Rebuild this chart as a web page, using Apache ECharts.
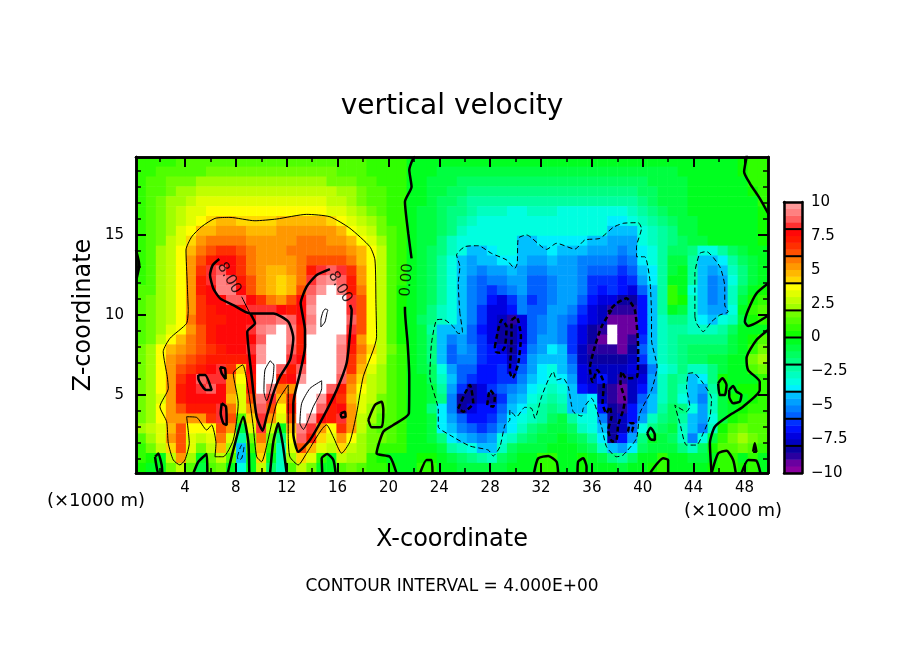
<!DOCTYPE html>
<html><head><meta charset="utf-8"><style>html,body{margin:0;padding:0;background:#fff}#c{width:904px;height:654px}</style>
<script src="https://cdn.jsdelivr.net/npm/echarts@6/dist/echarts.min.js"></script></head><body><div id="c"></div>
<script>
// vertical velocity, rows listed top to bottom
const w00=[.5,.5,.5,.5,1,1,1,1,1,1,1,1,1,1,1,1,1,1,1,1,1,1,1,.5,.5,.5,.5, -.3,-.3,-.5,-.5,-.5,-.5,-.5,-.5,-.5,-.5,-.5,-.5,-.5,-.5,-.5,-.5,-.5,-.5,-.5,-.5,-.5,-.5,-.5,-.5,-.5,-.5,-.5,-.3,-.3,-.3,-.3,-.3,-.2,.2,.5,.5];
const w01=[.5,.5,1,1,1,1,1,1.5,1.5,1.5,1.5,1.5,1.5,1.5,1.5,1.5,1.5,1.5,1.5,1.5,1,1,1,.5,.5,.5,.5, -.3,-.5,-.5,-.7,-1,-1,-1,-1,-1,-1,-1,-1,-1,-1,-1,-1,-1,-1,-1,-1,-1,-1,-1,-1,-1,-.7,-.7,-.5,-.5,-.5,-.5,-.3,-.3,.2,.5,.7];
const w02=[.5,1,1,1.5,1.5,1.5,2,2,2,2,2,2,2,2,2,2,2,2,2,1.5,1.5,1.5,1,1,.5,.5,.5, -.3,-.5,-.7,-1,-1,-1.5,-1.5,-1.5,-1.5,-1.5,-1.5,-1.5,-1.5,-1.5,-1.5,-1.5,-1.5,-1.5,-1.5,-1.5,-1.5,-1.5,-1.5,-1.5,-1,-1,-.7,-.7,-.5,-.5,-.5,-.3,-.3,-.2,.5,.7];
const w03=[.5,1,1,1.5,2,2,2.5,2.5,2.5,2.5,2.5,2.5,2.5,2.5,2.5,2.5,2.5,2.5,2.5,2.5,2,2,1.5,1,1,.5,.5, -.3,-.5,-.7,-1,-1.5,-1.5,-2,-2,-2,-2,-2,-2,-2,-2,-2,-2,-2,-2,-2,-2,-2,-2,-2,-1.5,-1.5,-1,-1,-.7,-.5,-.5,-.5,-.3,-.3,-.3,.2,.7];
const w04=[.5,1,1.5,2,2,2.5,3,3,3,3,3,3,3,3,3,3,3,3,3,2.5,2.5,2,1.5,1,1,.5,.5, -.3,-.5,-1,-1.5,-1.5,-2,-2.5,-2.5,-2.5,-2.5,-2.5,-2.5,-2.5,-2.5,-2.5,-2.5,-2.5,-2.5,-2.5,-2.5,-2.5,-2.5,-2.5,-2,-1.5,-1,-1,-.7,-.5,-.5,-.5,-.5,-.3,-.3,-.2,.5];
const w05=[.5,1,1.5,2,2.5,3,3,3.5,3.5,3.5,3.5,3.5,3.5,3.5,3.5,3.5,3.5,3.5,3.5,3,3,2.5,2,1.5,1,.5,.5, -.3,-.7,-1,-1.5,-2,-2,-2.5,-3,-3,-3,-3.5,-3.5,-3,-3,-3,-3.5,-3.5,-3.5,-3.5,-3.5,-3.5,-3.5,-3,-2.5,-2,-1.5,-1,-.7,-.5,-.5,-.5,-.5,-.5,-.3,-.3,.2];
const w06=[.5,1,1.5,2,2.5,3,3.5,4,4.5,4.5,4,4,4,4,4.5,4.5,4.5,4.5,4.5,4,3.5,3,2.5,2,1.5,.5,.5, -.3,-.7,-1,-1.5,-2,-2.5,-3,-3.5,-3.5,-3.5,-3.5,-3.5,-3.5,-3.5,-3.5,-3.5,-3.5,-3.5,-3.5,-3.5,-4,-4,-3.5,-3,-2.5,-2,-1.5,-1,-.7,-.5,-.5,-.5,-.5,-.3,-.3,.2];
const w07=[.5,1,1.5,2,3,3.5,4.5,4.5,5,5,5,4.5,4.5,4.5,5,5,5,5,5,5,4.5,3.5,3,2.5,1.5,1,.5, -.3,-.7,-1,-1.5,-2,-3,-3.5,-3.5,-3.5,-3.5,-3.5,-3.5,-3.5,-3.5,-3.5,-3.5,-3.5,-3.5,-3.5,-3.5,-4.5,-4.5,-4.5,-3.5,-3,-2.5,-2,-1,-.7,-.5,-.5,-.5,-.5,-.3,-.3,.2];
const w08=[.5,1,1.5,2.5,3,4,5,5.5,5.5,5.5,5.5,5,5,5,5,5,5.5,5.5,5.5,5,5,4.5,3.5,3,2,1,.5, -.3,-.7,-1,-2,-3,-3.5,-3.5,-3.5,-3.5,-3.5,-3.5,-4.5,-4.5,-4,-3.8,-3.8,-3.8,-3.8,-4.5,-4.5,-5,-5,-5,-3.5,-3,-2.5,-2,-1.5,-1,-.7,-.5,-.5,-.5,-.3,-.3,.2];
const w09=[.5,1,2,2.5,3.5,4.5,5.5,6,6.5,6.5,6,5.5,5,5,5,5.5,5.5,5.5,5.5,5.5,5.5,5,4.5,3.5,2.5,1,.5, -.3,-.7,-1.5,-2,-3,-3.5,-4.5,-4.5,-4,-3.5,-3.5,-4.5,-4.5,-4.5,-4,-4.5,-4.5,-4.5,-5,-5,-5,-5.5,-5,-4,-3.5,-2.5,-1.5,-1.5,-2,-3.5,-3.5,-2.5,-1.5,-.7,-.3,-.1];
const w10=[.5,1,2,2.5,3.5,5,6,7,7.5,7.5,6.5,5.5,5,5,5,5,5.5,6,6,6,6,5.5,4.5,3.5,2.5,1,.5, -.3,-.7,-1.5,-2.5,-3.5,-4.5,-5,-4.5,-4.5,-4,-3.7,-4.5,-5,-5,-4.5,-5,-5,-5.5,-5.5,-5.5,-5.5,-6,-5.5,-4,-3.5,-2.5,-1,-1,-2.5,-4.5,-4.5,-4,-2.5,-1.5,-.7,-.3];
const w11=[.5,1,2,2.5,3.5,5,6.5,8,8.5,7.5,6.5,5.5,5,4.5,4.5,5,5.5,7,8,8.5,8,6.5,5,3.5,2.5,1,.5, -.3,-.7,-1.5,-2.5,-3.5,-4.5,-5,-5.5,-5,-5,-4.5,-5,-5.5,-5.5,-5,-5,-5,-5.5,-6,-6,-6,-6.5,-6,-4.5,-4,-2.5,-1,-.5,-2.5,-4.5,-5,-4.5,-3,-2,-1,-.3];
const w12=[.5,1,2,2.5,3.5,5,7,8,9,8.5,7,6,5,4.5,4,4.5,5.5,8,9,9.5,8.5,7,5,3.5,2.5,1,.5, -.3,-.7,-1.5,-2.5,-3.5,-4.5,-5.5,-6,-5.5,-5.5,-5,-5,-6,-6,-5.5,-5,-5,-5.5,-6.5,-6.5,-6.5,-7,-6.5,-5,-4,-2.5,-.5,-.3,-2.5,-4.5,-5.5,-5,-3.5,-2,-.7,-.2];
const w13=[1,1,2,2.5,3.5,5,7,7.5,9,9,7.5,6,5,4.5,4,4.5,6,8.5,9.5,10.5,9,7,5.5,3.5,2.5,1,.3, -.3,-.7,-1.5,-2.5,-3.5,-4.5,-5.5,-6,-6.5,-6,-5.5,-5,-6,-6,-5.5,-5,-5,-5.5,-6.5,-7,-6.5,-7,-7.5,-6,-4.2,-2.5,.5,-.5,-3.5,-4.5,-5.5,-5,-3,-1.5,-.5,.2];
const w14=[1,1.5,2,2.5,3.5,5,6.5,7.5,7.5,8.5,8.5,7.5,6.5,5.5,5,6,7.5,9,10.5,10.5,10.5,8,6,3.5,2.5,1,.3, -.3,-.7,-1.5,-2.5,-3.5,-4.5,-5.5,-6,-7,-7.5,-6.5,-5.5,-6.5,-6,-5.5,-5,-5,-6,-7,-7.5,-7.5,-8.5,-8.5,-7,-4.2,-2.5,.5,.3,-3,-4.5,-5.5,-5,-3,-1,.3,.7];
const w15=[1,1.5,2,2.5,3.5,5,6.5,7,7.5,7.5,7.5,8,8,8,7.5,7,7.5,9.5,10.5,10.5,10.5,8,6,3.5,2.5,1,.3, -.5,-1,-2,-3,-3.5,-4.5,-5.5,-6.5,-7.5,-7.5,-7,-5.5,-6,-6,-5,-5,-5.5,-6.5,-7.5,-8,-9,-9,-9,-7,-4.5,-2.5,-.5,-.7,-3,-4.5,-5,-4.7,-3.5,-.5,.7,1];
const w16=[1,1.5,2,2.5,3.5,5.5,6.5,7,7,7.5,7.5,7.5,8.5,8.5,9,8.5,7.5,9,10.5,10.5,10.5,8.5,6,3.5,2.5,1,.3, -.5,-1.5,-2,-3,-3.5,-4.5,-5.5,-6.5,-7.5,-8,-9,-7.5,-6,-5.5,-5,-5.5,-6,-7,-7.5,-8,-9.5,-9.5,-9.5,-7,-4.5,-3,-2,-2,-3,-4,-4.2,-3.5,-3,-1,.3,.5];
const w17=[1,1.5,2,3,3.5,5,6,7,7.5,7.5,7.5,8,9,9.5,10.5,9,7,9.5,10.5,10.5,10.5,8,6,3.5,2.5,1,.3, -.5,-1,-2.5,-4.5,-4.5,-4.5,-6,-7,-7.5,-8.5,-8.5,-7.5,-6,-5.5,-5,-5.5,-6.5,-7.5,-8.5,-9,-10.5,-9.5,-9.5,-7,-4.5,-3,-2.5,-2.5,-3,-3,-3,-2.5,-1.5,-.5,-.3,-.2];
const w18=[1,1.5,2.5,3.5,4.5,5.5,6,7,7.5,7.5,7.5,7.5,8.5,10,10.5,9,7,10,10.5,10.5,9.5,7.5,5,3.5,2.5,1,.3, -.5,-1,-2,-4.5,-5.5,-5,-6,-6.5,-7.5,-8.5,-8.5,-7.5,-6,-5,-5,-5.5,-6.5,-7.5,-8.5,-9.5,-10.5,-9.5,-9,-6.5,-4.2,-3,-2.5,-2,-2,-2,-2,-2,-1,-.5,.3,1];
const w19=[1.5,2,3.5,4.5,5,5.5,6,6.5,7,7.5,7.5,8,9.5,10.5,10.5,8.5,7,10,10.5,10.5,9,7,5.5,4,2.5,1.5,.5, -.3,-1,-2,-4.5,-6,-5,-5.5,-6.5,-7,-7.5,-8.5,-7,-5.5,-5,-4,-4.5,-6.5,-8,-9,-9,-9,-9.5,-8.5,-6,-4.5,-3,-2.5,-2,-1.5,-1.5,-1.5,-1.5,-.7,-.3,.7,1.5];
const w20=[1.5,2,3.5,5,5.5,6,6.5,7,7,7,7,7.5,9.5,10.5,10,8,7.5,10,10.5,10.5,9,6.5,5,3.5,2.5,1,.5, -.3,-1,-2,-4.2,-6,-5.5,-5.5,-6.5,-7,-7,-8,-6.5,-5,-4.5,-4.5,-4.5,-6,-8,-8.5,-8.5,-8.5,-8.5,-8,-6.5,-4.5,-3,-2.5,-2,-1.5,-1.5,-1,-1,-.5,-.2,1.5,2];
const w21=[1.5,2,3.5,5,6,6.5,7,7.5,8,6.5,4,7.5,10.5,10.5,8.5,7,8.5,10.5,10.5,10.5,9,6.5,4.5,3,2,1,.5, -.3,-.7,-1.5,-3.5,-5,-6,-6,-7,-7,-6.5,-7.5,-6,-5,-4,-3.5,-4.5,-5.5,-7.5,-8,-8,-8,-8,-7.5,-8,-5.5,-3.5,-3,-2,-3,-3,-2,-.7,-.3,-.2,1,1.5];
const w22=[1.5,2,3.5,5,6.5,7.5,8.5,8,8,5,3.5,7,10,10.5,7,7.5,9.5,10.5,10.5,10.5,8.5,5.5,4,2.5,2,1,.5, -.3,-.5,-1.5,-3,-4.5,-6,-6.5,-7,-7,-6.5,-6.5,-5.5,-4.5,-4,-3.5,-4,-5,-7.5,-8,-7,-8,-9,-8,-7.5,-5,-3,-2,-2.5,-4.5,-4,-2,.2,-.2,-.2,-.2,.5];
const w23=[1.5,2,3.5,5,7,7.5,8,8.5,7.5,5,3,7,10,9,5.5,5,10,10.5,10.5,8.5,7,5,3.5,2.5,2,1,.5, -.3,-.5,-1,-2.5,-5,-6.5,-8.5,-7.5,-6.5,-6,-5.5,-5,-4,-3.5,-3,-3.5,-4.5,-7,-7.5,-8.5,-9,-9.5,-8,-7,-5,-3,-2,-3,-4.5,-5,-2.5,.2,-.3,.2,.3,.7];
const w24=[1.5,2,3,5,7,7.5,7.5,7.5,7.5,4.5,3,6,9,8,4.5,6.5,10.5,10.5,9.5,7.5,6.5,4.5,3,2.5,1.5,1,.5, -.3,-.5,-1,-2,-5.5,-8.5,-8.5,-7.5,-8.5,-6.5,-5,-4.5,-3.5,-3,-2.5,-3,-4.5,-4.5,-4,-8,-9,-9.5,-8,-6,-4.5,-3,-2,-3.5,-4.5,-5.5,-3,-.7,.2,-.1,.3,.7];
const w25=[1.5,2,3.5,5,6,7,7,7,8,5.5,3,5,8.5,6,3.5,7,10.5,10.5,8.5,7,7.5,5,3,2,1.5,1,.5, -.3,-.5,-2,-4,-5.5,-8.5,-7.5,-7,-7,-6,-4.5,-4,-3,-2.5,-2,-2.5,-4.2,-4.5,-3.5,-7,-8.5,-9,-7,-5.5,-4.2,-2.5,-1.5,-2,-3.5,-5,-3,-1,-.3,.2,.5,.7];
const w26=[1.5,2,3.5,5,5,5,5,6.5,8,6,1,4,8,5,3,6,10,9.5,7.5,7,8,5,2.5,2,1,1,.5, -.3,-.5,-1,-4,-5,-6,-7,-7,-6.5,-5.5,-4,-3.5,-3,-2.5,-1.5,-1,-2.5,-3.5,-3.5,-5.5,-8.5,-8,-7,-5,-3,-2,-1.5,-2.5,-4.5,-5,-3.5,-.7,.2,.7,1,1];
const w27=[2,2.5,3,4.5,6,3.5,3.5,3.5,6,5,-1,3,8,2.5,-.5,4.5,9,8,5,3.8,6.5,5,2.5,1.5,1,1,.5, -.3,-.3,-1,-4,-4.5,-5.5,-6,-6.5,-6,-5,-4,-3,-2,-1.5,-1,-.7,-1.5,-3,-3.5,-4.2,-8.5,-8,-6,-3.5,-2,-1.5,-1,-3,-4.5,-5.5,-3,.3,1,1.5,1,1];
const w28=[1,2,3,5,6,3,2.5,3,5.5,3,-2.5,1.5,5.5,1.5,-2,3.5,8.5,7,4,3,5,3.5,2,1.5,1.5,1,.5, -.3,-.3,-.7,-2,-4,-4.5,-5,-5.5,-5,-3.5,-3,-2,-1.5,-1,-.7,-.5,-1,-1.5,-2.5,-4,-8.5,-7,-5,-2,-.3,-1,-1.5,-3,-5.5,-3.5,-1,.5,1.5,2,1.5,1];
const w29=[.5,1.5,2.5,4,6,3,1.5,2.5,4.5,2,-4.5,.5,4.5,.5,-3,3,6,4.5,3,2.5,4,2.5,2,1.5,.5,.5,.5, -.3,-.3,-.5,-1,-2.5,-3,-3.5,-4.5,-4.5,-3,-1.5,-1,-1,-.7,-.5,-.5,-.5,-1,-1.5,-3,-4.5,-5,-4,-1.5,-.7,-.7,-1,-2,-3,-1.5,.3,1,1,1.5,1,.5];
const w30=[.5,.3,-.3,2.5,5,2,-.5,1.5,2.5,1,-4.5,-.5,4,-.5,-3,2,4,3,.5,-.3,2.5,2,2,.5,.2,-.2,-.3, -.3,.3,.3,-.5,-1,-1.5,-2,-2.5,-3,-1.5,-1,-.5,-.3,.5,.7,-.3,-.3,.3,-.5,-1,-2,-2.5,-1.5,-.5,-.2,.5,-.2,-.5,-1,-.7,-.2,.7,.7,-.2,.5,-.2];
const w31=[.3,-.3,-.3,1.5,2.5,1,-1,1,1.5,-.2,-3.5,-.5,2.5,-1.5,-3,1,2.5,1.5,-.2,-.3,1,1.5,1,.5,.5,.2,-.3, -.3,.5,.5,-.3,-.5,-.7,-.7,-1,-1,-.7,-.5,-.3,-.2,.5,.7,-.2,-.2,.3,-.3,-.3,-.5,-.7,-.5,-.2,.3,.7,-.2,-.2,-.3,-.3,.2,.7,.7,.2,.5,-.1];
const rows=[w00,w01,w02,w03,w04,w05,w06,w07,w08,w09,w10,w11,w12,w13,w14,w15,w16,w17,w18,w19,w20,w21,w22,w23,w24,w25,w26,w27,w28,w29,w30,w31];

// colour bands from -10 upward in steps of 0.5
const bandColors=['#8a00a0','#6a00a0','#2a00a0','#0a00a0','#0000c0','#0000e0','#0010ff','#0030ff','#0060ff','#0080ff','#00a0ff','#00c0ff','#00f0ff','#00ffe0','#00ffc0','#00ffa0','#00ff80','#00ff60','#00ff40','#00ff20','#10ff00','#30ff00','#50ff00','#70ff00','#a0ff00','#c0ff00','#e0ff00','#ffff00','#ffd800','#ffb800','#ff9800','#ff7800','#ff5000','#ff3000','#ff1800','#ff0808','#ff3030','#ff6060','#ff8080','#ff9999'];
const barLevels=[-8,-6,-4,-2,0,2,4,6,8];
const xMajor=[4,8,12,16,20,24,28,32,36,40,44,48];
const xMinor=[2,6,10,14,18,22,26,30,34,38,42,46];
const zMajor=[5,10,15];
const zMinor=[1,2,3,4,6,7,8,9,11,12,13,14,16,17,18,19];

// contours, [x km, z km]
const c4a=[[4.26,10.31],[4.18,11.98],[4.08,14.06],[4.53,14.89],[5.31,15.52],[6.36,16.04],[7.54,16.1],[9.5,15.89],[11.21,16],[13.57,16.29],[15.4,16.14],[16.97,15.42],[18.54,14.27],[18.94,13.44],[19.02,10.73],[19.07,8.64],[18.02,6.14],[17.5,3.86],[16.97,2.08],[16.32,1.36],[15.66,2.39],[15.14,3.13],[13.57,1.36],[12.91,.63],[12.25,1.14],[12.12,2.39],[12.12,5.63],[11.21,4.48],[10.47,1.98],[10.03,.83],[9.64,1.14],[9.37,3.02],[8.98,5.31],[8.54,6.88],[7.8,6.36],[8.19,4.48],[7.8,2.19],[7.01,1.14],[6.36,1.14],[6.44,1.98],[6.1,3.13],[5.71,2.81],[4.92,3.6],[4.13,3.64],[4.34,1.98],[4,.94],[3.6,.63],[3.08,.94],[2.69,1.98],[2.56,3.33],[2.03,4.27],[2.69,5.42],[2.61,6.14],[2.29,7.71],[2.82,8.54],[4.13,9.48],[4.26,10.31]];
const c8a=[[6.7,13.5],[6.18,13.12],[5.97,12.5],[6.23,11.66],[6.76,11.04],[7.8,10.62],[9.11,10.1],[10.95,10.1],[12.13,9.58],[12.52,8.54],[12.26,7.19],[11.47,6.14],[10.95,5.1],[10.42,3.64],[10.11,2.77],[9.64,3.64],[9.25,6.14],[8.9,8.96],[9.51,9.48],[9.11,10.14]];
const c8aThin=[[8.46,11.14],[9.11,10.1]];
const c8b=[[15.4,12.87],[14.36,12.5],[13.57,11.77],[13.1,10.73],[13.18,10.31],[13.44,9.06],[13.44,8.02],[13.04,6.35],[12.52,4.48],[12.52,2.6],[12.91,1.46],[13.83,2.19],[14.88,3.64],[15.93,5.31],[16.71,6.98],[16.98,8.85],[17.11,10.31],[16.98,10.62]];
const c8c=[[5.05,6.25],[5.58,6.25],[6.1,5.31],[5.58,5.35],[5.05,6.04],[5.05,6.25]];
const c8d=[[6.76,6.73],[7.15,6.66],[7.2,6],[6.89,6.35],[6.76,6.73]];
const c8e=[[6.89,4.48],[7.23,4.27],[7.28,3.12],[7.02,3.23],[6.81,3.85],[6.89,4.48]];
const c8f=[[16.24,3.85],[16.58,3.96],[16.63,3.64],[16.32,3.6],[16.24,3.85]];
const c12a=[[15.01,10.38],[15.24,10.31],[15.17,10.13],[15.01,9.56],[14.69,9.25],[14.69,9.69],[14.85,10.19],[15.01,10.38]];
const c12b=[[10.69,7.14],[11,6.87],[10.9,5.94],[10.42,4.64],[10.21,5.21],[10.29,6.56],[10.69,7.14]];
const c12c=[[14.75,5.89],[14.75,5.41],[14.09,4.27],[13.31,2.85],[13.04,3.23],[13.18,4.48],[13.83,5.41],[14.75,5.89]];
const c0mid1=[[22.1,19.9],[21.95,19.79],[21.64,19.06],[21.82,18.02],[21.3,17.08],[21.56,15.1],[21.82,13.54]];
const c0mid2=[[21.3,10.52],[21.3,10.31],[21.51,8.23],[21.64,6.14],[21.61,3.85],[20.38,3.12],[19.6,2.71],[19.07,1.35],[20.12,1.14],[20.64,.1]];
const c0l1=[[1.65,1.14],[1.91,1.35],[2.17,.62],[2.22,.1],[1.91,.1],[1.72,.73],[1.65,1.14]];
const c0l2=[[4.66,.1],[5.05,.83],[5.71,1.31],[5.76,.1]];
const c0l3=[[7.36,.1],[7.8,1.56],[8.59,3.64],[8.98,2.08],[9.06,.1]];
const c0l4=[[10.69,.1],[10.95,2.08],[11.34,3.23],[11.68,1.98],[12,.1]];
const c0l5=[[14.8,.1],[14.75,1.04],[15.19,1.31],[15.67,.94],[15.85,.1]];
const c0l6=[[18.42,3.44],[18.94,4.37],[19.47,4.58],[19.6,4.06],[19.47,3.02],[18.68,2.98],[18.42,3.44]];
const c0l7=[[.15,14.06],[.41,13.12],[.2,12.29]];
const cm4a=[[8.12,1.14],[8.46,1.87],[8.64,1.77],[8.46,1.04],[8.2,.94],[8.12,1.14]];
const cm4b=[[25.62,10.1],[25.49,11.98],[25.62,13.02],[25.36,13.75],[26.01,14.27],[27.06,14.33],[28.11,13.85],[29.29,13.44],[29.94,12.91],[30.13,13.23],[30.21,14.79],[30.86,15],[32.43,14.1],[33.22,14.48],[34.66,14.12],[35.45,14.69],[36.63,14.79],[37.68,15.48],[38.46,15.73],[39.64,15.77],[39.9,15.41],[39.51,14.27],[39.51,13.64],[40.16,13.64],[40.56,12.19],[40.69,9.89],[40.69,8.44],[41.13,6.77],[40.69,5.31],[39.77,3.85],[39.51,2.29],[38.46,1.25],[37.94,1.14],[37.15,1.77],[36.76,3.02],[35.97,4.79],[35.32,4.16],[35.19,3.68],[34.53,3.96],[34.14,5.52],[33.74,6.04],[33.22,5.94],[32.96,6.46],[32.57,5.94],[32.04,4.89],[31.52,3.54],[31.26,4.16],[30.73,4.23],[30.08,3.64],[29.55,4.06],[29.55,3.44],[29.16,3.12],[28.77,1.77],[28.24,1.19],[27.85,1.56],[26.41,1.81],[24.83,2.5],[23.92,3.02],[23.92,4.06],[23.26,6.14],[23.39,8.23],[23.79,9.69],[24.31,9.73],[25.1,9.27],[25.49,8.85],[25.83,8.89],[25.62,10.1]];
const cm4c=[[44.1,9.89],[44.1,12.6],[44.49,13.85],[45.01,13.96],[46.06,13.02],[46.45,11.77],[46.45,10.62],[46.72,10.2],[46.06,10],[45.41,9.58],[44.75,8.96],[44.23,9.48],[44.1,9.89]];
const cm4d=[[43.57,6.35],[43.96,6.39],[44.75,5.73],[45.41,4.79],[45.28,3.64],[44.75,2.6],[44.23,1.87],[43.44,1.87],[42.92,3.23],[42.52,4.37],[43.44,3.96],[43.7,4.27],[43.44,5.52],[43.57,6.35]];
const cm8a=[[28.37,8.02],[28.63,9.06],[28.9,9.69],[29.29,9.27],[29.16,8.02],[28.77,7.64],[28.45,7.7],[28.37,8.02]];
const cm8b=[[29.68,9.69],[30.08,9.89],[30.42,8.64],[30.21,6.98],[29.76,6.04],[29.55,6.46],[29.68,8.44],[29.68,9.69]];
const cm8c=[[25.49,4.16],[26.41,5.62],[26.67,4.48],[25.88,3.96],[25.49,4.16]];
const cm8d=[[27.77,4.37],[27.98,5.31],[28.37,4.89],[28.24,4.27],[27.77,4.37]];
const cm8e=[[37.54,10.31],[36.76,9.27],[36.23,8.02],[35.84,6.66],[36.05,5.83],[36.42,6.56],[36.94,5.73],[36.84,4.48],[37.15,3.85],[37.41,4.27],[37.54,3.64],[37.28,2.81],[37.62,2.08],[37.94,2.19],[38.07,3.12],[38.46,4.06],[38.59,4.69],[38.25,5.73],[38.33,6.46],[38.72,6.04],[39.56,6.14],[39.64,7.81],[39.38,10.31],[38.72,11.04],[37.94,10.73],[37.28,10.2],[37.54,10.31]];
const cm8f=[[38.85,2.71],[38.99,3.23],[39.3,3.23],[39.12,2.71],[38.85,2.71]];
const c0r0=[[22.48,.1],[23,.94],[23.39,.94],[23.47,.1]];
const c0r1=[[31.44,.1],[31.78,1.04],[32.57,1.19],[33.22,.83],[33.35,.1]];
const c0r2=[[34.87,.1],[34.92,.83],[35.32,1.04],[35.58,.52],[35.58,.1]];
const c0r3=[[40.56,.1],[41.61,1.04],[42,.94],[42,.1]];
const c0r4=[[45.41,.1],[45.93,1.35],[46.59,1.52],[47.11,.94],[47.32,.1]];
const c0r5=[[47.76,.1],[48.29,.94],[48.94,.89],[49.26,.1]];
const c0r6=[[40.35,2.6],[40.61,2.96],[40.95,2.5],[40.95,2.19],[40.61,2.23],[40.35,2.6]];
const c0r7=[[45.93,5.73],[46.27,6.04],[46.59,5.62],[46.45,5],[46.06,5],[45.93,5.73]];
const c0r8=[[46.8,5.31],[47.11,5.56],[47.37,5.21],[47.76,5],[47.63,4.58],[47.11,4.48],[46.8,4.89],[46.8,5.31]];
const c0r9=[[48.68,1.46],[48.81,1.98],[48.94,1.46],[48.68,1.46]];
const c0r10=[[48.21,20.2],[48.16,19.85],[47.97,18.96],[48.42,18.23],[49.2,17.29],[49.9,16.3]];
const c0r11=[[49.9,12],[48.94,11.35],[48.29,10.31],[48.03,9.58],[48.29,9.31],[49.9,9.98]];
const c0r12=[[49.9,9.1],[48.94,8.44],[48.16,7.29],[48.29,6.56],[49.2,5.83],[49.2,5.31],[47.89,4.27],[46.85,3.75],[45.67,3.02],[45.28,1.98],[45.41,.1]];

const thinSolid=[c4a,c8aThin,c12a,c12b,c12c];
const thickSolid=[c8a,c8b,c8c,c8d,c8e,c8f,c0mid1,c0mid2,c0l1,c0l2,c0l3,c0l4,c0l5,c0l6,c0l7,c0r0,c0r1,c0r2,c0r3,c0r4,c0r5,c0r6,c0r7,c0r8,c0r9,c0r10,c0r11,c0r12];
const thinDash=[cm4a,cm4b,cm4c,cm4d];
const thickDash=[cm8a,cm8b,cm8c,cm8d,cm8e,cm8f];
const contourLabels=[[7.46,12.31,'8.00',-60],[16.19,11.75,'8.00',-60],[21.45,12.19,'0.00',85]];

const FONT='"DejaVu Sans"';
const nC=rows[0].length,nR=rows.length;
const idx=n=>Array.from({length:n},(_,i)=>i);
const heatData=[];
rows.forEach((r,ri)=>r.forEach((v,c)=>heatData.push([c,nR-1-ri,v])));
const barData=bandColors.map((_,i)=>[0,i,-10+i*.5+.25]);
const pieces=bandColors.map((color,i)=>({gte:-10+i*.5,lt:-10+i*.5+.5,color}));
pieces.push({gte:10,color:'#ffffff'},{lt:-10,color:'#ffffff'});

const lineC={color:'#000',width:2.5};
const xBase={type:'value',gridIndex:0,min:.15,max:49.85,z:10,splitLine:{show:false},axisLine:{onZero:false,lineStyle:lineC},axisLabel:{show:false}};
const yBase={type:'value',gridIndex:0,min:.125,max:19.875,z:10,splitLine:{show:false},axisLine:{onZero:false,lineStyle:lineC},axisLabel:{show:false}};
const tick=(vals,len)=>({show:true,inside:true,length:len,customValues:vals,lineStyle:{color:'#000',width:len>7?2:1.5}});
const lbl={color:'#000',fontFamily:FONT,fontSize:15};

const xAxes=[
 {type:'category',gridIndex:0,data:idx(nC),show:false},
 {...xBase,position:'bottom',axisTick:tick(xMajor,10),axisLabel:{...lbl,show:true,margin:8,customValues:xMajor}},
 {...xBase,position:'bottom',axisTick:tick(xMinor,5)},
 {...xBase,position:'top',axisTick:tick(xMajor,10)},
 {...xBase,position:'top',axisTick:tick(xMinor,5)},
 {type:'category',gridIndex:1,data:['v'],show:false},
 {type:'value',gridIndex:1,min:0,max:1,z:10,position:'bottom',splitLine:{show:false},axisTick:{show:false},axisLabel:{show:false},axisLine:{onZero:false,lineStyle:lineC}},
 {type:'value',gridIndex:1,min:0,max:1,z:10,position:'top',splitLine:{show:false},axisTick:{show:false},axisLabel:{show:false},axisLine:{onZero:false,lineStyle:lineC}}
];
const yAxes=[
 {type:'category',gridIndex:0,data:idx(nR),show:false},
 {...yBase,position:'left',axisTick:tick(zMajor,10),axisLabel:{...lbl,show:true,margin:12,customValues:zMajor}},
 {...yBase,position:'left',axisTick:tick(zMinor,5)},
 {...yBase,position:'right',axisTick:tick(zMajor,10)},
 {...yBase,position:'right',axisTick:tick(zMinor,5)},
 {type:'category',gridIndex:1,data:idx(bandColors.length),show:false},
 {type:'value',gridIndex:1,min:-10,max:10,interval:2.5,z:10,position:'right',splitLine:{show:false},axisTick:{show:false},axisLine:{onZero:false,lineStyle:lineC},axisLabel:{...lbl,margin:9,formatter:v=>String(v).replace('-','\u2212')}},
 {type:'value',gridIndex:1,min:-10,max:10,interval:2.5,z:10,position:'left',splitLine:{show:false},axisTick:{show:false},axisLabel:{show:false},axisLine:{onZero:false,lineStyle:lineC}}
];

const contour=(data,width,dash)=>({type:'line',xAxisIndex:1,yAxisIndex:1,data,symbol:'none',smooth:.2,silent:true,animation:false,z:5,
  lineStyle:{color:'#000',width,type:dash?[5,3]:'solid'}});

const series=[
 {type:'heatmap',xAxisIndex:0,yAxisIndex:0,data:heatData,progressive:0,animation:false,silent:true,z:1},
 {type:'heatmap',xAxisIndex:5,yAxisIndex:5,data:barData,progressive:0,animation:false,silent:true,z:1},
 ...thinSolid.map(d=>contour(d,1,false)),
 ...thickSolid.map(d=>contour(d,2.5,false)),
 ...thinDash.map(d=>contour(d,1,true)),
 ...thickDash.map(d=>contour(d,2.5,true)),
 ...barLevels.map(v=>({type:'line',xAxisIndex:6,yAxisIndex:6,data:[[0,v],[1,v]],symbol:'none',silent:true,animation:false,z:5,lineStyle:{color:'#000',width:2}})),
 {type:'scatter',xAxisIndex:1,yAxisIndex:1,silent:true,animation:false,z:6,symbolSize:1,itemStyle:{color:'transparent'},
  data:contourLabels.map(l=>({value:[l[0],l[1]],label:{show:true,position:'inside',formatter:l[2],rotate:l[3],color:'#000',fontFamily:FONT,fontSize:15}}))}
];

const text=(t,x,y,size,rot)=>({type:'text',x,y,rotation:rot||0,silent:true,style:{text:t,fill:'#000',font:size+'px '+FONT,align:'center',verticalAlign:'middle'}});

const chart=echarts.init(document.getElementById('c'),null,{renderer:'canvas'});
chart.setOption({
 animation:false,backgroundColor:'#fff',
 title:{text:'vertical velocity',left:'center',top:88,textStyle:{fontFamily:FONT,fontSize:28,fontWeight:'normal',color:'#000'}},
 grid:[{left:136,top:157,width:632,height:316},{left:784,top:202,width:18,height:271}],
 xAxis:xAxes,yAxis:yAxes,
 visualMap:{show:false,type:'piecewise',dimension:2,seriesIndex:[0,1],pieces},
 series,
 graphic:[
  text('Z-coordinate',84,315,24,Math.PI/2),
  text('X-coordinate',452,540,24),
  text('(\u00d71000 m)',96,501,18),
  text('(\u00d71000 m)',733,511,18),
  text('CONTOUR INTERVAL = 4.000E+00',452,587,17)
 ]
});
</script></body></html>
